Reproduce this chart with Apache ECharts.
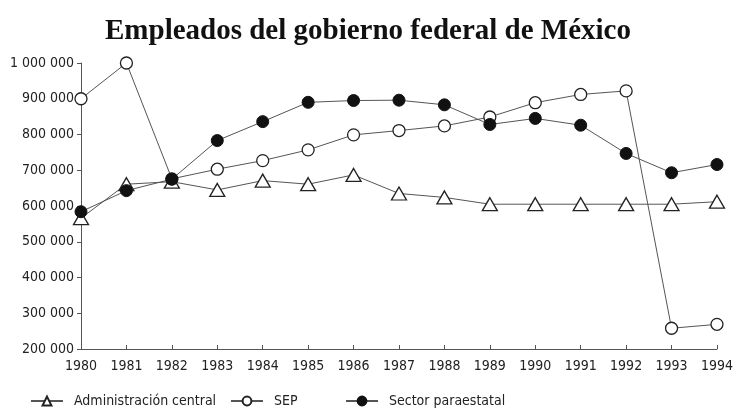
<!DOCTYPE html>
<html>
<head>
<meta charset="utf-8">
<script src="https://cdn.jsdelivr.net/npm/echarts@6/dist/echarts.min.js"></script>
<style>
  html, body { margin: 0; padding: 0; background: #fff; }
  #chart { width: 736px; height: 418px; }
</style>
</head>
<body>
<div id="chart"></div>
<script>
// datos
var years = ['1980', '1981', '1982', '1983', '1984', '1985', '1986', '1987',
  '1988', '1989', '1990', '1991', '1992', '1993', '1994'];
var adminCentral = [566000, 661000, 668000, 645000, 671000, 661000, 687000, 635000,
  624000, 605000, 605000, 605000, 605000, 605000, 612000];
var sep = [900000, 1000000, 676000, 703000, 727000, 757000, 799000, 811000,
  824000, 849000, 889000, 912000, 922000, 258000, 269000];
var paraestatal = [584000, 643000, 675000, 783000, 836000, 890000, 895000, 896000,
  883000, 828000, 845000, 826000, 747000, 693000, 716000];

var labelFont = '"DejaVu Sans Condensed", "Liberation Sans Narrow", "Liberation Sans", sans-serif';
var lineColor = '#555';

function fmt(v) {
  return String(v).replace(/\B(?=(\d{3})+(?!\d))/g, ' ');
}

function legendAt(name, left) {
  return {
    bottom: 5,
    left: left,
    itemWidth: 32,
    itemHeight: 11,
    textStyle: {
      fontFamily: labelFont, fontSize: 14, color: '#222',
      padding: [0, 0, 0, 6]
    },
    data: [name]
  };
}

var chart = echarts.init(document.getElementById('chart'));

var option = {
  backgroundColor: '#fff',
  animation: false,
  title: {
    text: 'Empleados del gobierno federal de México',
    left: 'center',
    top: 12,
    textStyle: {
      fontFamily: '"Liberation Serif", "DejaVu Serif", serif',
      fontWeight: 'bold',
      fontSize: 29,
      color: '#111'
    }
  },
  legend: [
    legendAt('Administración central', 25),
    legendAt('SEP', 225),
    legendAt('Sector paraestatal', 340)
  ],
  grid: {
    left: 81,
    right: 16,
    top: 63,
    bottom: 69,
    containLabel: false
  },
  xAxis: {
    type: 'category',
    data: years,
    boundaryGap: false,
    axisLine: { lineStyle: { color: lineColor, width: 1 } },
    axisTick: { inside: true, length: 4, lineStyle: { color: lineColor } },
    axisLabel: {
      fontFamily: labelFont, fontSize: 14, color: '#222', margin: 10
    },
    splitLine: { show: false }
  },
  yAxis: {
    type: 'value',
    min: 200000,
    max: 1000000,
    interval: 100000,
    axisLine: { show: true, lineStyle: { color: lineColor, width: 1 } },
    axisTick: { show: true, length: 4, lineStyle: { color: lineColor } },
    axisLabel: {
      fontFamily: labelFont, fontSize: 14, color: '#222', margin: 7,
      formatter: fmt
    },
    splitLine: { show: false }
  },
  series: [
    {
      name: 'Administración central',
      type: 'line',
      data: adminCentral,
      symbol: 'triangle',
      symbolSize: [15, 13],
      lineStyle: { color: lineColor, width: 1 },
      itemStyle: { color: '#fff', borderColor: '#222', borderWidth: 1.3 },
      z: 2
    },
    {
      name: 'SEP',
      type: 'line',
      data: sep,
      symbol: 'circle',
      symbolSize: 12,
      lineStyle: { color: lineColor, width: 1 },
      itemStyle: { color: '#fff', borderColor: '#222', borderWidth: 1.3 },
      z: 3
    },
    {
      name: 'Sector paraestatal',
      type: 'line',
      data: paraestatal,
      symbol: 'circle',
      symbolSize: 12,
      lineStyle: { color: lineColor, width: 1 },
      itemStyle: { color: '#111', borderColor: '#111', borderWidth: 1 },
      z: 4
    }
  ]
};

chart.setOption(option);
</script>
</body>
</html>
